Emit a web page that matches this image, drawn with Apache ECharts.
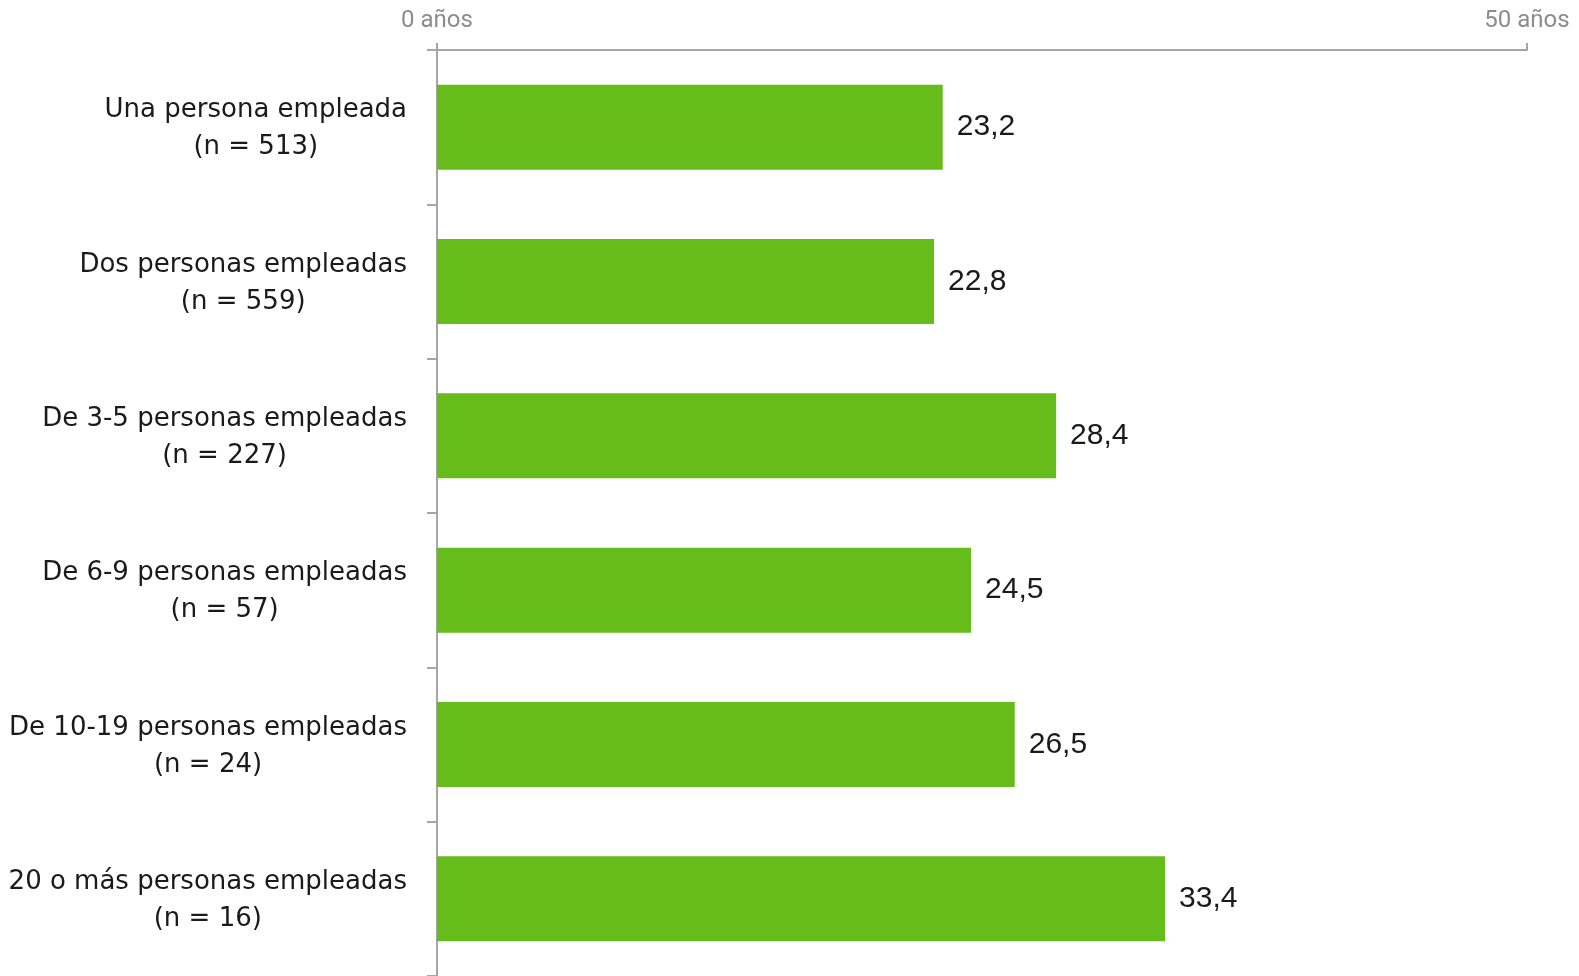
<!DOCTYPE html>
<html>
<head>
<meta charset="utf-8">
<script src="https://cdn.jsdelivr.net/npm/echarts@6/dist/echarts.min.js"></script>
<style>
    html, body { margin: 0; padding: 0; background: #fff; }
    #chart { width: 1579px; height: 976px; }
</style>
</head>
<body>
<div id="chart"></div>
<script>
// Data
var categories = [
    'Una persona empleada',
    'Dos personas empleadas',
    'De 3-5 personas empleadas',
    'De 6-9 personas empleadas',
    'De 10-19 personas empleadas',
    '20 o más personas empleadas'
];
var sampleSizes = [513, 559, 227, 57, 24, 16];
var values = [23.2, 22.8, 28.4, 24.5, 26.5, 33.4];
var axisMin = 0;
var axisMax = 50;

var labelFont = '"DejaVu Sans", sans-serif';

var chartElement = document.getElementById('chart');
var chart = echarts.init(chartElement);

var option = {
    animation: false,
    grid: {
        left: 437,
        right: 52,
        top: 50,
        bottom: -5,
        containLabel: false
    },
    xAxis: {
        type: 'value',
        position: 'top',
        min: axisMin,
        max: axisMax,
        interval: 50,
        splitLine: { show: false },
        axisLine: { show: true, lineStyle: { color: '#a6a6a6', width: 2 } },
        axisTick: { show: true, length: 7, lineStyle: { color: '#a6a6a6', width: 2 } },
        axisLabel: {
            color: '#8c8c8c',
            fontSize: 24,
            fontFamily: 'Roboto, sans-serif',
            margin: 17,
            formatter: function (v) { return v + ' años'; }
        }
    },
    yAxis: {
        type: 'category',
        inverse: true,
        data: categories,
        axisLine: { show: true, lineStyle: { color: '#a6a6a6', width: 2 } },
        axisTick: { show: true, length: 10, lineStyle: { color: '#a6a6a6', width: 2 } },
        axisLabel: {
            margin: 30,
            align: 'right',
            color: '#1a1a1a',
            formatter: function (val, idx) {
                return '{c|' + val + '}\n{c|(n = ' + sampleSizes[idx] + ')}';
            },
            rich: {
                c: {
                    align: 'center',
                    fontSize: 26,
                    lineHeight: 37,
                    padding: [4, 0, 0, 0],
                    fontFamily: labelFont,
                    color: '#1a1a1a'
                }
            }
        }
    },
    series: [{
        type: 'bar',
        data: values,
        barWidth: 85,
        itemStyle: { color: '#65bc1b' },
        label: {
            show: true,
            position: 'right',
            distance: 14,
            fontSize: 30,
            fontFamily: 'Liberation Sans, sans-serif',
            color: '#1a1a1a',
            formatter: function (p) { return String(p.value.toFixed(1)).replace('.', ','); }
        }
    }]
};

chart.setOption(option);
window.addEventListener('resize', function () { chart.resize(); });
</script>
</body>
</html>
